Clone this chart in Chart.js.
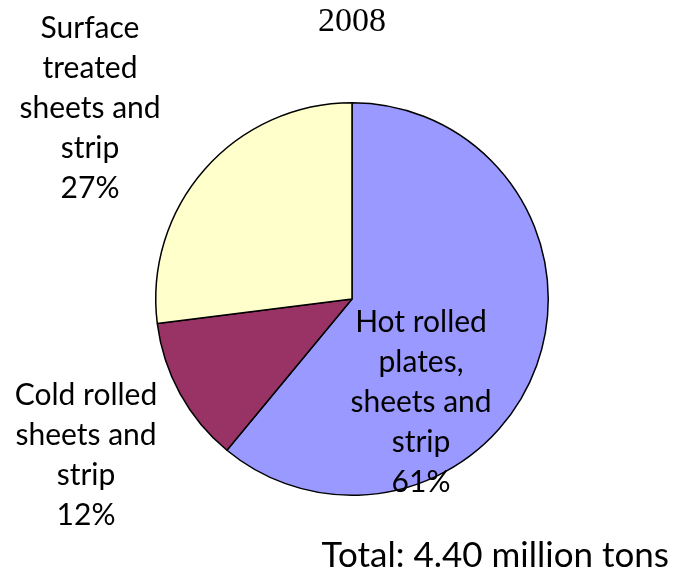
<!DOCTYPE html>
<html>
<head>
<meta charset="utf-8">
<title>2008</title>
<script src="https://cdn.jsdelivr.net/npm/chart.js@4"></script>
<style>
  html, body { margin: 0; padding: 0; background: #fff; }
  #wrap { width: 673px; height: 582px; position: relative; }
</style>
</head>
<body>
<div id="wrap"><canvas id="pie" width="673" height="582"></canvas></div>
<script>
// Data
const categories = [
  'Hot rolled plates, sheets and strip',
  'Cold rolled sheets and strip',
  'Surface treated sheets and strip'
];
const shares = [61, 12, 27];
const sliceColors = ['#9999FF', '#993366', '#FFFFCC'];
const chartTitle = '2008';
const totalNote = 'Total: 4.40 million tons';

// label text broken into lines, as in the original
const labelLines = [
  ['Hot rolled', 'plates,', 'sheets and', 'strip'],
  ['Cold rolled', 'sheets and', 'strip'],
  ['Surface', 'treated', 'sheets and', 'strip']
];
// label block placement (x centre, baseline of first line)
const labelPos = [
  { x: 421, y: 332 },
  { x: 86, y: 405 },
  { x: 90, y: 38 }
];

const LABEL_FONT = "30px Lato, 'Open Sans', sans-serif";
const LINE_H = 40;

// Draws title, data labels and total note
const textPlugin = {
  id: 'textPlugin',
  afterDraw(chart) {
    const ctx = chart.ctx;
    ctx.save();
    ctx.fillStyle = '#000';
    ctx.textAlign = 'center';
    ctx.textBaseline = 'alphabetic';

    ctx.font = "34px 'Liberation Serif', 'DejaVu Serif', serif";
    ctx.fillText(chartTitle, 352, 31);

    ctx.font = LABEL_FONT;
    const data = chart.data.datasets[0].data;
    const total = data.reduce((a, b) => a + b, 0);
    labelLines.forEach((lines, i) => {
      const pct = Math.round(data[i] / total * 100) + '%';
      const all = lines.concat([pct]);
      all.forEach((line, j) => {
        ctx.fillText(line, labelPos[i].x, labelPos[i].y + j * LINE_H);
      });
    });

    ctx.textAlign = 'right';
    ctx.font = "35px Lato, 'Open Sans', sans-serif";
    ctx.fillText(totalNote, 669, 567);
    ctx.restore();
  }
};

new Chart(document.getElementById('pie').getContext('2d'), {
  type: 'pie',
  data: {
    labels: categories,
    datasets: [{
      data: shares,
      backgroundColor: sliceColors,
      borderColor: '#000',
      borderWidth: 1.5
    }]
  },
  options: {
    responsive: false,
    animation: false,
    rotation: 0,
    layout: {
      padding: { left: 155, right: 124, top: 102, bottom: 86 }
    },
    plugins: {
      legend: { display: false },
      title: { display: false },
      tooltip: { enabled: false }
    }
  },
  plugins: [textPlugin]
});
</script>
</body>
</html>
